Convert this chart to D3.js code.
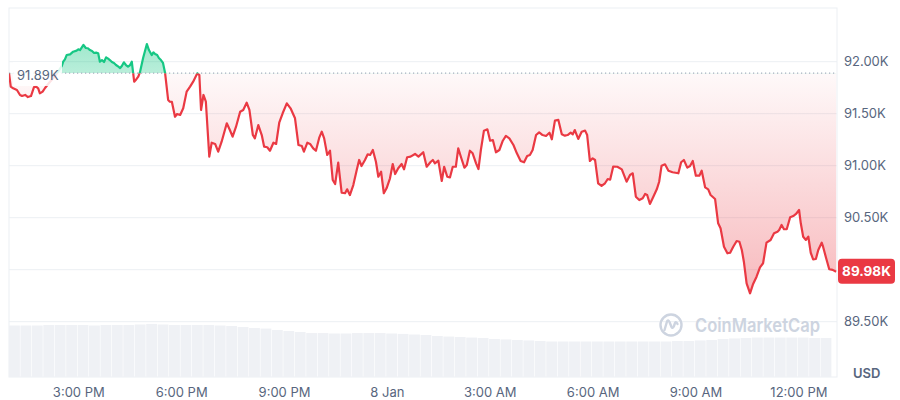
<!DOCTYPE html>
<html><head><meta charset="utf-8">
<script src="https://cdn.jsdelivr.net/npm/d3@7"></script>
<style>html,body{margin:0;padding:0;background:#fff;} svg{display:block;font-family:Inter,"Noto Sans",sans-serif;}</style>
</head><body><svg id="chart" width="900" height="400"></svg>
<script>
// hours counted from 7 Jan 00:00
const hours = [12.98,13.03,13.10,13.21,13.30,13.36,13.45,13.53,13.62,13.71,13.77,13.83,13.88,13.96,14.03,14.17,14.32,14.44,14.52,14.56,
14.61,14.66,14.76,14.85,14.95,15.00,15.05,15.15,15.22,15.28,15.34,15.40,15.46,15.52,15.58,15.63,15.69,15.75,15.81,15.87,
15.92,15.98,16.04,16.10,16.17,16.22,16.27,16.33,16.39,16.45,16.51,16.56,16.63,16.70,16.75,16.80,16.89,17.00,17.06,17.14,
17.19,17.24,17.30,17.35,17.41,17.47,17.53,17.62,17.67,17.73,17.82,17.88,17.97,18.06,18.16,18.26,18.35,18.47,18.53,18.58,
18.65,18.72,18.82,18.89,18.99,19.08,19.18,19.33,19.42,19.50,19.60,19.72,19.81,19.91,19.99,20.09,20.15,20.25,20.35,20.42,
20.51,20.59,20.69,20.77,20.86,20.96,21.08,21.19,21.32,21.42,21.52,21.58,21.68,21.76,21.85,21.93,22.03,22.10,22.17,22.26,
22.34,22.42,22.49,22.58,22.68,22.78,22.84,22.92,23.02,23.12,23.19,23.26,23.36,23.44,23.51,23.59,23.68,23.75,23.83,23.91,
23.99,24.09,24.17,24.24,24.33,24.43,24.50,24.59,24.69,24.82,24.92,25.06,25.16,25.28,25.34,25.40,25.50,25.60,25.67,25.76,
25.84,25.92,26.01,26.08,26.18,26.26,26.33,26.42,26.50,26.60,26.67,26.74,26.83,26.93,27.01,27.09,27.18,27.28,27.38,27.47,
27.57,27.69,27.79,27.90,28.00,28.09,28.17,28.25,28.35,28.44,28.54,28.64,28.74,28.81,28.90,29.00,29.10,29.19,29.27,29.36,
29.42,29.48,29.58,29.68,29.78,29.84,29.92,30.00,30.07,30.16,30.26,30.36,30.44,30.51,30.60,30.72,30.85,30.99,31.09,31.17,
31.26,31.36,31.46,31.53,31.59,31.67,31.77,31.87,31.94,32.01,32.11,32.21,32.33,32.50,32.58,32.66,32.76,32.84,32.92,33.01,
33.11,33.18,33.28,33.37,33.44,33.57,33.66,33.73,33.83,33.93,34.01,34.10,34.20,34.28,34.35,34.41,34.49,34.59,34.68,34.78,
34.88,34.97,35.07,35.19,35.29,35.39,35.44,35.51,35.58,35.66,35.76,35.85,35.93,36.02,36.07,36.14,36.22,36.29,36.36,36.43,
36.51,36.58,36.68,36.72,36.81,36.90,37.00,37.10];

const prices = [91890,91760,91744,91728,91680,91670,91680,91660,91670,91757,91760,91744,91696,91712,91747,91805,91862,91920,91959,92000,
92023,92064,92071,92096,92106,92119,92112,92161,92132,92129,92112,92103,92084,92087,92081,92000,92016,91997,92042,92029,
92016,91997,91987,91968,91952,91939,91959,91994,91968,91952,91968,92000,91808,91834,91856,91901,92036,92170,92112,92064,
92090,92074,92064,92036,92016,91988,91894,91632,91615,91613,91471,91497,91488,91552,91712,91760,91808,91888,91872,91536,
91680,91615,91087,91221,91209,91135,91231,91408,91343,91279,91375,91519,91536,91606,91536,91295,91263,91391,91295,91183,
91177,91144,91221,91209,91413,91504,91600,91552,91456,91199,91189,91135,91221,91209,91167,91144,91273,91327,91263,91103,
91144,90863,90824,91029,90740,90735,90773,90718,90814,90959,91055,90997,91055,91110,91103,91151,91038,90894,90942,90735,
90783,90879,91016,90920,90975,91016,90965,91081,91087,91113,91087,91129,90990,91038,91055,91023,91048,90853,90990,90894,
90888,90990,90990,91167,91062,90981,91007,91144,91119,91023,90968,91151,91337,91350,91240,91247,91129,91151,91240,91286,
91263,91199,91119,91045,91033,91093,91103,91151,91295,91321,91295,91286,91317,91254,91433,91440,91302,91289,91295,91317,
91302,91343,91257,91327,91337,91295,91045,91071,91055,90831,90805,90831,90872,90865,90992,90990,90965,90846,90911,90927,
90702,90670,90687,90728,90718,90632,90702,90773,90846,91000,91013,90952,90937,90927,91033,91055,90981,90997,91045,90904,
90904,90952,90792,90773,90718,90680,90446,90398,90221,90158,90163,90221,90276,90269,90190,90077,89869,89773,89863,89933,
90023,90062,90260,90286,90350,90365,90382,90430,90389,90389,90504,90516,90536,90574,90446,90317,90286,90317,90163,90100,
90103,90190,90260,90221,90110,90004,89998,89980];

// volume (B), one bar per 20 minutes
const volumes = [35.5,35.5,35.5,35.9,35.9,35.9,35.9,35.5,35.9,35.9,35.9,36.2,36.6,36.2,35.9,35.9,35.9,35.9,35.5,35.2,
34.5,33.8,33.4,32.4,31.7,31.0,30.3,30.3,30.0,30.0,30.3,30.3,30.3,30.0,29.7,29.3,29.0,28.3,27.9,27.6,
27.2,26.9,26.2,25.9,25.5,25.2,24.8,24.5,24.5,24.5,24.5,24.5,24.5,24.5,24.5,24.5,24.5,24.5,24.8,24.8,
25.2,25.5,26.2,26.6,26.9,27.2,27.2,27.2,27.2,27.2,26.9,26.9];
const volStartHour = 12.98;
const volStepHours = 1/3;

const priceTicks = [89500, 90000, 90500, 91000, 91500, 92000];
const timeTickHours = [15, 18, 21, 24, 27, 30, 33, 36];
const currency = "USD";
const brand = "CoinMarketCap";

const base = new Date(2025, 0, 7).getTime();
const toDate = h => new Date(base + h * 3600e3);
const data = hours.map((h, i) => ({t: toDate(h), p: prices[i]}));

const svg = d3.select("#chart");
const plot = {left: 9, right: 837, top: 8, bottom: 377};
const x = d3.scaleTime().domain([toDate(12.979), toDate(37.126)]).range([plot.left, plot.right]);
const y = d3.scaleLinear().domain([89500, 92000]).range([321.7, 61.7]);
const yv = d3.scaleLinear().domain([0, 40]).range([plot.bottom, 319]);
const fmtK = v => d3.format(".2f")(v / 1000) + "K";
const RED = "#ea3943", GREEN = "#16c784", GREY = "#58667e";

const openP = prices[0], lastP = prices[prices.length - 1];
const by = y(openP);
const ly = y(lastP);

const defs = svg.append("defs");
const rg = defs.append("linearGradient").attr("id", "rg").attr("gradientUnits", "userSpaceOnUse")
  .attr("x1", 0).attr("x2", 0).attr("y1", by).attr("y2", 300);
rg.append("stop").attr("offset", 0).attr("stop-color", RED).attr("stop-opacity", 0.03);
rg.append("stop").attr("offset", 1).attr("stop-color", RED).attr("stop-opacity", 0.36);
const gg = defs.append("linearGradient").attr("id", "gg").attr("gradientUnits", "userSpaceOnUse")
  .attr("x1", 0).attr("x2", 0).attr("y1", 40).attr("y2", by);
gg.append("stop").attr("offset", 0).attr("stop-color", GREEN).attr("stop-opacity", 0.42);
gg.append("stop").attr("offset", 1).attr("stop-color", GREEN).attr("stop-opacity", 0.3);
defs.append("clipPath").attr("id", "above").append("rect")
  .attr("x", plot.left).attr("y", 0).attr("width", plot.right - plot.left).attr("height", by);
defs.append("clipPath").attr("id", "below").append("rect")
  .attr("x", plot.left).attr("y", by).attr("width", plot.right - plot.left).attr("height", 400 - by);

// gridlines
svg.append("g").selectAll("line").data(priceTicks).join("line")
  .attr("x1", plot.left).attr("x2", plot.right)
  .attr("y1", d => y(d)).attr("y2", d => y(d))
  .attr("stroke", "#eceff3").attr("stroke-width", 1);
// frame
svg.append("rect").attr("x", plot.left).attr("y", plot.top)
  .attr("width", plot.right - plot.left).attr("height", plot.bottom - plot.top)
  .attr("fill", "none").attr("stroke", "#eceff3");

// volume bars
svg.append("g").selectAll("rect").data(volumes).join("rect")
  .attr("x", (d, i) => x(toDate(volStartHour + i * volStepHours)))
  .attr("width", (d, i) => Math.max(0, x(toDate(volStartHour + (i + 1) * volStepHours)) - x(toDate(volStartHour + i * volStepHours)) - 0.6))
  .attr("y", d => yv(d))
  .attr("height", d => plot.bottom - yv(d))
  .attr("fill", "#eff1f5");

// watermark
const wm = svg.append("g").attr("transform", "translate(671,325)");
wm.append("circle").attr("r", 10.5).attr("fill", "none").attr("stroke", "#cdd4e0").attr("stroke-width", 2.4);
wm.append("path").attr("d", "M-6.5,5 L-4,-3.5 Q-3,-6 -1.5,-3 L0.5,2 Q1.5,4 2.8,1.5 L4,-2 Q5,-4 6.5,-1")
  .attr("fill", "none").attr("stroke", "#cdd4e0").attr("stroke-width", 2.4).attr("stroke-linecap", "round").attr("stroke-linejoin", "round");
svg.append("text").attr("x", 695).attr("y", 325).attr("dominant-baseline", "central")
  .attr("font-size", 19).attr("font-weight", 600).attr("fill", "#cdd4e0")
  .attr("textLength", 125).attr("lengthAdjust", "spacingAndGlyphs").text(brand);

// areas
const area = d3.area().x(d => x(d.t)).y0(by).y1(d => y(d.p));
const line = d3.line().x(d => x(d.t)).y(d => y(d.p));
svg.append("path").datum(data).attr("d", area).attr("fill", "url(#rg)").attr("clip-path", "url(#below)");
svg.append("path").datum(data).attr("d", area).attr("fill", "url(#gg)").attr("clip-path", "url(#above)");

// baseline dotted
svg.append("line").attr("x1", plot.left).attr("x2", plot.right).attr("y1", by).attr("y2", by)
  .attr("stroke", "#a7afc0").attr("stroke-width", 1.1).attr("stroke-dasharray", "1.2,2.8");

// lines
svg.append("path").datum(data).attr("d", line).attr("fill", "none").attr("stroke", RED)
  .attr("stroke-width", 2.2).attr("stroke-linejoin", "round").attr("clip-path", "url(#below)");
svg.append("path").datum(data).attr("d", line).attr("fill", "none").attr("stroke", GREEN)
  .attr("stroke-width", 2.2).attr("stroke-linejoin", "round").attr("clip-path", "url(#above)");

// open label
svg.append("rect").attr("x", 13).attr("y", 62).attr("width", 49).attr("height", 24)
  .attr("fill", "#fff").attr("opacity", 0.85);
svg.append("text").attr("x", 17).attr("y", 74.5).attr("dominant-baseline", "central")
  .attr("font-size", 13).attr("fill", GREY).text(fmtK(openP));

// right axis (labels hidden where the last-price box sits, as in the reference)
const shownTicks = priceTicks.filter(v => Math.abs(y(v) - ly) > 14);
const ya = svg.append("g").attr("transform", `translate(844,0)`)
  .call(d3.axisRight(y).tickValues(shownTicks).tickSize(0).tickPadding(0).tickFormat(fmtK));
ya.select(".domain").remove();
ya.selectAll("text").attr("font-size", 13).attr("fill", GREY).attr("font-family", "Inter,'Noto Sans',sans-serif");

// bottom axis
const tfmt = d => (d.getHours() === 0 ? d3.timeFormat("%-d %b")(d) : d3.timeFormat("%-I:%M %p")(d));
const xa = svg.append("g").attr("transform", `translate(0,388)`)
  .call(d3.axisBottom(x).tickValues(timeTickHours.map(toDate)).tickSize(0).tickPadding(0).tickFormat(tfmt));
xa.select(".domain").remove();
xa.selectAll("text").attr("font-size", 13).attr("fill", GREY).attr("font-family", "Inter,'Noto Sans',sans-serif");

// currency
svg.append("text").attr("x", 853).attr("y", 372.5).attr("dominant-baseline", "central")
  .attr("font-size", 13).attr("font-weight", 600).attr("fill", GREY).text(currency);

// last price box
svg.append("rect").attr("x", 838).attr("y", ly - 13).attr("width", 57).attr("height", 25).attr("rx", 4).attr("fill", RED);
svg.append("text").attr("x", 866.5).attr("y", ly - 0.5).attr("text-anchor", "middle").attr("dominant-baseline", "central")
  .attr("font-size", 13.5).attr("font-weight", 700).attr("fill", "#fff").text(fmtK(lastP));
</script></body></html>
